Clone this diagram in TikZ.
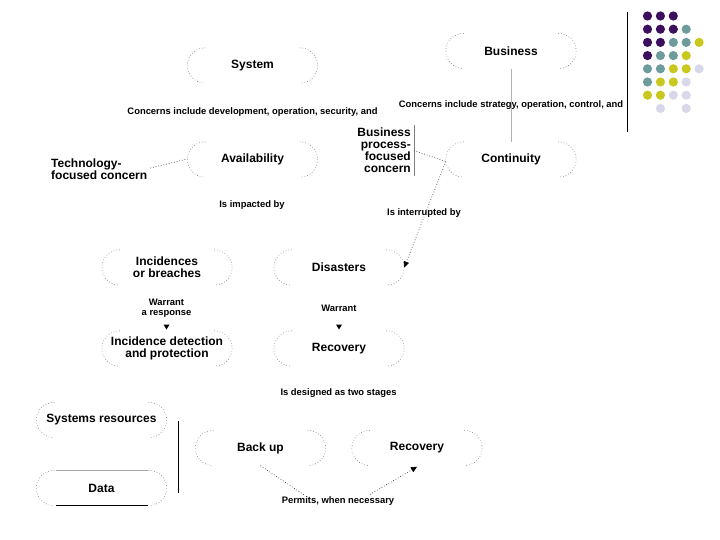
\documentclass[tikz,border=0pt]{standalone}
\usepackage{fontspec}
\setmainfont{Liberation Sans}
\usetikzlibrary{arrows.meta}
\definecolor{dpurple}{RGB}{59,15,94}
\definecolor{dteal}{RGB}{110,156,156}
\definecolor{dyellow}{RGB}{201,200,30}
\definecolor{dlav}{RGB}{216,216,234}
\newcommand\nodefont{\bfseries\fontsize{12}{12}\selectfont}
\newcommand\edgefont{\bfseries\fontsize{9.4}{10}\selectfont}
\newcommand\stadends[1]{%
  \draw[ends] ([xshift=18pt]#1.north west) .. controls ([xshift=8pt]#1.north west) and ([yshift=9.7pt]#1.west) .. (#1.west)
     .. controls ([yshift=-9.7pt]#1.west) and ([xshift=8pt]#1.south west) .. ([xshift=18pt]#1.south west);
  \draw[ends] ([xshift=-18pt]#1.north east) .. controls ([xshift=-8pt]#1.north east) and ([yshift=9.7pt]#1.east) .. (#1.east)
     .. controls ([yshift=-9.7pt]#1.east) and ([xshift=-8pt]#1.south east) .. ([xshift=-18pt]#1.south east);}
\tikzset{
  stadium/.style={minimum width=130pt, minimum height=35pt, inner sep=0pt, align=center, font=\nodefont},
  elabel/.style={inner sep=0pt, align=center, font=\edgefont},
  ends/.style={draw=black!60, line width=0.55pt, dash pattern=on 0.6pt off 2.2pt},
  dotline/.style={draw=black!80, line width=0.65pt, dash pattern=on 0.7pt off 2pt},
  dotarrow/.style={dotline, -{Triangle[length=6pt,width=5.5pt,black]}},
  solidtip/.style={fill=black},
}
\begin{document}
\begin{tikzpicture}[x=1pt,y=1pt]
\useasboundingbox[fill=white] (0,0) rectangle (720,-540);

% main nodes
\node[stadium] (sys) at (252.5,-65.5) {System};
\node[stadium] (bus) at (511,-51) {Business};
\node[stadium] (avail) at (252.5,-159.5) {Availability};
\node[stadium] (cont) at (511,-159.5) {Continuity};
\node[stadium] (inc) at (167,-267.5) {Incidences\\or breaches};
\node[stadium] (dis) at (339,-267.5) {Disasters};
\node[stadium] (incdet) at (167,-348.5) {Incidence detection\\and protection};
\node[stadium] (rec1) at (339,-348.5) {Recovery};
\node[stadium] (sres) at (101.5,-420) {Systems resources};
\node[stadium] (data) at (101.5,-488) {Data};
\node[stadium] (bk) at (260.5,-448) {Back up};
\node[stadium] (rec2) at (417,-448) {Recovery};

\foreach \n in {sys,bus,avail,cont,inc,dis,incdet,rec1,sres,data,bk,rec2} {\stadends{\n}}
\draw[black!35, line width=0.6pt] ([xshift=20pt]data.north west) -- ([xshift=-19pt]data.north east);
\draw[black, line width=0.8pt] ([xshift=20pt]data.south west) -- ([xshift=-19pt]data.south east);

% labels
\node[elabel] (conc1) at (252.5,-112) {Concerns include development, operation, security, and};
\node[elabel] (conc2) at (511,-105) {Concerns include strategy, operation, control, and};
\node[elabel] (impact) at (252,-205) {Is impacted by};
\node[elabel] (interr) at (424,-213.5) {Is interrupted by};
\node[elabel] (warr1) at (166.5,-308) {Warrant\\a response};
\node[elabel] (warr2) at (339,-308) {Warrant};
\node[elabel] (design) at (338.5,-393) {Is designed as two stages};
\node[elabel] (perm) at (338,-501) {Permits, when necessary};
\node[inner sep=0pt, align=left, font=\nodefont, anchor=west] (tech) at (51,-169) {Technology-\\focused concern};
\node[inner sep=3pt, align=right, font=\nodefont, anchor=east] (bpfc) at (414,-150.5) {Business\\process-\\focused\\concern};

% connectors
\draw[black!30, line width=0.7pt] (bus.south) -- (cont.north);
\draw[black!50, line width=0.6pt] (bpfc.north east) -- (bpfc.south east);
\draw[dotline] ([xshift=3pt,yshift=1pt]tech.east) -- ([yshift=0.5pt]avail.west);
\draw[dotline] (bpfc.east) -- ([yshift=-2pt]cont.west);
\draw[dotarrow] ([yshift=-2pt]cont.west) -- (dis.east);
\draw[dotline] (bk.south) -- ([xshift=-33pt,yshift=1pt]perm.north);
\draw[dotarrow] ([xshift=32pt,yshift=2pt]perm.north) -- ([yshift=-1pt]rec2.south);
\fill[solidtip] (163.5,-324.5) -- (169.5,-324.5) -- (166.5,-329.5) -- cycle;
\fill[solidtip] (336,-324.5) -- (342,-324.5) -- (339,-329.5) -- cycle;

% separators
\draw[black, line width=0.9pt] (627,-12) -- (627,-132);
\draw[black, line width=0.9pt] (178,-421) -- (178,-493);

% dot grid
\foreach \c/\r/\k in {
  0/0/dpurple,1/0/dpurple,2/0/dpurple,
  0/1/dpurple,1/1/dpurple,2/1/dpurple,3/1/dteal,
  0/2/dpurple,1/2/dpurple,2/2/dteal,3/2/dteal,4/2/dyellow,
  0/3/dpurple,1/3/dteal,2/3/dteal,3/3/dyellow,
  0/4/dteal,1/4/dteal,2/4/dyellow,3/4/dyellow,4/4/dlav,
  0/5/dteal,1/5/dyellow,2/5/dyellow,3/5/dlav,
  0/6/dyellow,1/6/dyellow,2/6/dlav,3/6/dlav,
  1/7/dlav,3/7/dlav}
  {\fill[\k] (647.5+12.9*\c,-16-13.2*\r) circle (4.6);}
\end{tikzpicture}
\end{document}
